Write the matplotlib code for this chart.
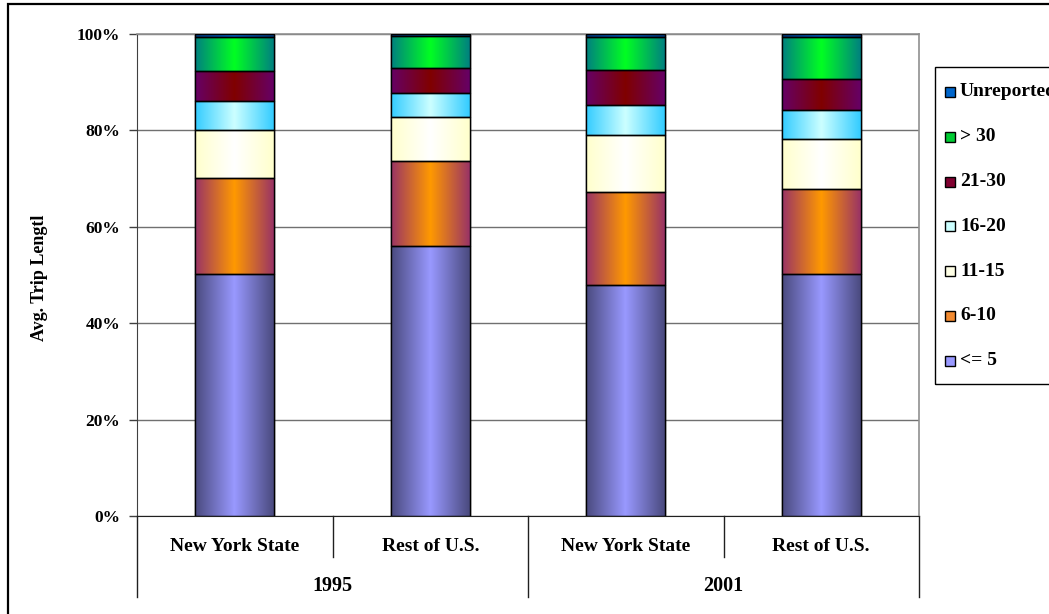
import numpy as np
import matplotlib
matplotlib.use("Agg")
import matplotlib.pyplot as plt
from matplotlib.colors import to_rgb
from matplotlib.patches import Rectangle
from matplotlib.transforms import blended_transform_factory

plt.rcParams["font.family"] = ["Liberation Serif", "DejaVu Serif"]
plt.rcParams["font.weight"] = "bold"

# ---- data (share of trips, %) ----
regions = ["New York State", "Rest of U.S.", "New York State", "Rest of U.S."]
years = ["1995", "2001"]
length_bins = ["<= 5", "6-10", "11-15", "16-20", "21-30", "> 30", "Unreported"]
share_le5 = [50.3, 56.1, 47.9, 50.3]
share_6_10 = [19.9, 17.5, 19.3, 17.5]
share_11_15 = [9.9, 9.2, 11.8, 10.4]
share_16_20 = [6.1, 4.9, 6.2, 6.0]
share_21_30 = [6.1, 5.2, 7.3, 6.5]
share_gt30 = [7.0, 6.7, 6.8, 8.6]
share_unrep = [0.7, 0.4, 0.7, 0.7]
y_ticks = [0, 20, 40, 60, 80, 100]

series = [share_le5, share_6_10, share_11_15, share_16_20,
          share_21_30, share_gt30, share_unrep]

# (edge shade, centre shade) for the horizontal gradient fill, plus legend swatch
shades = [
    ("#4a4a7e", "#9999ff", "#9999ff"),
    ("#993366", "#ff9900", "#f28a30"),
    ("#ffffcc", "#ffffff", "#ffffe6"),
    ("#33ccff", "#ccffff", "#ccffff"),
    ("#660066", "#800000", "#800030"),
    ("#008080", "#00ff22", "#00cc33"),
    ("#003a80", "#0066cc", "#0066cc"),
]

W, H = 1049, 614
fig = plt.figure(figsize=(W / 100, H / 100), dpi=100)
ax = fig.add_axes([137 / W, 1 - 516 / H, (919 - 137) / W, (516 - 34) / H])

x = np.arange(len(regions))
bar_w = 0.404
bottom = np.zeros(len(regions))


def gradient(edge, centre, n=200):
    t = np.abs(np.linspace(-1, 1, n))
    e = np.array(to_rgb(edge))
    c = np.array(to_rgb(centre))
    row = c[None, :] * (1 - t[:, None]) + e[None, :] * t[:, None]
    return row[None, :, :]


for vals, label, (edge, centre, swatch) in zip(series, length_bins, shades):
    vals = np.asarray(vals, dtype=float)
    bars = ax.bar(x, vals, bar_w, bottom=bottom, color=swatch,
                  edgecolor="black", linewidth=1.0, label=label, zorder=2)
    img = gradient(edge, centre)
    for p in bars.patches:
        x0, y0 = p.get_x(), p.get_y()
        im = ax.imshow(img, extent=[x0, x0 + p.get_width(), y0, y0 + p.get_height()],
                       aspect="auto", interpolation="bilinear", zorder=2.5)
        im.set_clip_path(p)
        # outline on top of the gradient
        ax.add_patch(Rectangle((x0, y0), p.get_width(), p.get_height(),
                               fill=False, edgecolor="black", linewidth=1.0, zorder=3))
    bottom += vals

ax.set_xlim(-0.5, len(regions) - 0.5)
ax.set_ylim(0, 100)
ax.set_yticks(y_ticks)
ax.set_yticklabels([f"{v}%" for v in y_ticks], fontsize=12.5, fontweight="bold")
ax.tick_params(axis="y", direction="out", length=6, width=1, pad=6, color="#404040")
ax.set_xticks([])
ax.grid(axis="y", color="#707070", linewidth=1.0, zorder=1)
ax.set_axisbelow(True)
for side in ("top", "right"):
    ax.spines[side].set_color("#909090")
    ax.spines[side].set_linewidth(1.2)
ax.spines["left"].set_color("#404040")
ax.spines["bottom"].set_color("#202020")

# two-level category axis
tr = blended_transform_factory(ax.transData, ax.transAxes)
for i, name in enumerate(regions):
    ax.text(x[i], -0.063, name, transform=tr, ha="center", va="center",
            fontsize=14, fontweight="bold")
for j, yr in enumerate(years):
    ax.text(2 * j + 0.5, -0.145, yr, transform=tr, ha="center", va="center",
            fontsize=14.5, fontweight="bold")
for b in np.arange(-0.5, len(regions), 1.0):
    long_line = int(round(b + 0.5)) % 2 == 0
    depth = 0.168 if long_line else 0.085
    ax.plot([b, b], [0, -depth], transform=tr, color="#202020",
            linewidth=1.0, clip_on=False)

fig.text(40 / W, 1 - 278 / H, "Avg. Trip Lengtl", rotation=90, ha="center",
         va="center", fontsize=13, fontweight="bold")

# legend box drawn in pixel space, newest bin on top
px = lambda u, v: (u / W, 1 - v / H)
fig.add_artist(Rectangle(px(935, 384), 140 / W, (384 - 67) / H,
                         transform=fig.transFigure, fill=False,
                         edgecolor="black", linewidth=1.0, clip_on=False))
row_gap = 44.8
for k, (label, (_, _, swatch)) in enumerate(zip(length_bins[::-1], shades[::-1])):
    cy = 92 + k * row_gap
    fig.add_artist(Rectangle(px(945, cy + 5), 10 / W, 10 / H,
                             transform=fig.transFigure, facecolor=swatch,
                             edgecolor="black", linewidth=1.0))
    fig.text(*px(960, cy), label, ha="left", va="center",
             fontsize=14, fontweight="bold")

# chart-area border
fig.add_artist(Rectangle((7.5 / W, -0.2), 1.5, 1.2 - 4 / H,
                         transform=fig.transFigure, fill=False,
                         edgecolor="black", linewidth=1.6, clip_on=False))

fig.savefig("out.png", dpi=100)
